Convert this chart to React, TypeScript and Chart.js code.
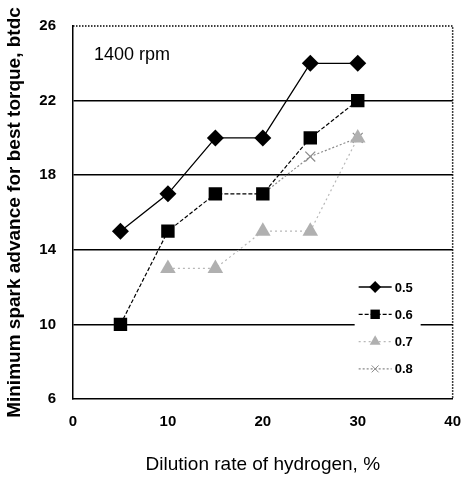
import React, { useEffect, useRef } from "react";
import { Chart, registerables } from "chart.js";

Chart.register(...registerables);

const dilution = [5, 10, 15, 20, 25, 30];
const series05 = [15, 17, 20, 20, 24, 24];
const series06 = [10, 15, 17, 17, 20, 22];
const series07 = [null, 13, 13, 15, 15, 20];
const series08 = [null, null, null, 17, 19, 20];
const seriesLabels = ["0.5", "0.6", "0.7", "0.8"];
const annotationText = "1400 rpm";
const xTitle = "Dilution rate of hydrogen, %";
const yTitle = "Minimum spark advance for best torque, btdc";

const FONT = "'Liberation Sans', Arial, sans-serif";

function toPoints(vals: (number | null)[]) {
  return dilution.map((x, i) => ({ x, y: vals[i] }));
}

function drawMarker(ctx: CanvasRenderingContext2D, style: string, x: number, y: number, r: number, fill: string, stroke: string) {
  ctx.save();
  ctx.fillStyle = fill;
  ctx.strokeStyle = stroke;
  ctx.lineWidth = 1;
  ctx.setLineDash([]);
  ctx.beginPath();
  if (style === "rectRot") {
    ctx.moveTo(x, y - r);
    ctx.lineTo(x + r, y);
    ctx.lineTo(x, y + r);
    ctx.lineTo(x - r, y);
    ctx.closePath();
    ctx.fill();
  } else if (style === "rect") {
    const s = r * Math.SQRT1_2;
    ctx.rect(x - s, y - s, 2 * s, 2 * s);
    ctx.fill();
  } else if (style === "triangle") {
    ctx.moveTo(x, y - r);
    ctx.lineTo(x + r * 0.866, y + r * 0.5);
    ctx.lineTo(x - r * 0.866, y + r * 0.5);
    ctx.closePath();
    ctx.fill();
  } else {
    const s = r * Math.SQRT1_2;
    ctx.moveTo(x - s, y - s);
    ctx.lineTo(x + s, y + s);
    ctx.moveTo(x + s, y - s);
    ctx.lineTo(x - s, y + s);
    ctx.stroke();
  }
  ctx.restore();
}

const framePlugin = {
  id: "frame",
  afterDatasetsDraw(chart: any) {
    const { ctx, chartArea } = chart;
    const { left, right, top, bottom } = chartArea;
    ctx.save();
    // dotted top and right borders
    ctx.strokeStyle = "#000";
    ctx.lineWidth = 1.5;
    ctx.setLineDash([1.5, 1.5]);
    ctx.beginPath();
    ctx.moveTo(left, top);
    ctx.lineTo(right, top);
    ctx.lineTo(right, bottom);
    ctx.stroke();
    ctx.setLineDash([]);

    // annotation
    ctx.fillStyle = "#000";
    ctx.font = `18px ${FONT}`;
    ctx.textAlign = "left";
    ctx.textBaseline = "middle";
    ctx.fillText(annotationText, left + 21, top + 29);

    // legend
    const boxL = right - 98;
    const boxT = top + 247;
    ctx.fillStyle = "#fff";
    ctx.fillRect(boxL, boxT, 66, 110);
    const lineX0 = right - 94;
    const lineX1 = right - 61;
    const textX = right - 58;
    const rowY0 = top + 261;
    const rowStep = 27.3;
    chart.data.datasets.forEach((ds: any, i: number) => {
      const y = rowY0 + i * rowStep;
      ctx.save();
      ctx.strokeStyle = ds.borderColor;
      ctx.lineWidth = ds.borderWidth;
      ctx.setLineDash(ds.borderDash || []);
      ctx.beginPath();
      ctx.moveTo(lineX0, y);
      ctx.lineTo(lineX1, y);
      ctx.stroke();
      ctx.restore();
      drawMarker(ctx, ds.pointStyle, (lineX0 + lineX1) / 2, y, ds.pointRadius * 0.7, ds.pointBackgroundColor, ds.pointBorderColor);
      ctx.fillStyle = "#000";
      ctx.font = `bold 13px ${FONT}`;
      ctx.textAlign = "left";
      ctx.textBaseline = "middle";
      ctx.fillText(ds.label, textX, y + 1);
    });
    ctx.restore();
  },
};

export default function App() {
  const ref = useRef<HTMLCanvasElement | null>(null);
  useEffect(() => {
    document.body.style.margin = "0";
    const canvas = ref.current;
    if (!canvas) return;
    const chart = new Chart(canvas, {
      type: "line",
      data: {
        datasets: [
          {
            label: seriesLabels[0],
            data: toPoints(series05),
            borderColor: "#000",
            borderWidth: 1.3,
            pointStyle: "rectRot",
            pointRadius: 8.5,
            pointBackgroundColor: "#000",
            pointBorderColor: "#000",
            pointBorderWidth: 0,
          },
          {
            label: seriesLabels[1],
            data: toPoints(series06),
            borderColor: "#000",
            borderWidth: 1.2,
            borderDash: [4, 2],
            pointStyle: "rect",
            pointRadius: 9.5,
            pointBackgroundColor: "#000",
            pointBorderColor: "#000",
            pointBorderWidth: 0,
          },
          {
            label: seriesLabels[2],
            data: toPoints(series07),
            borderColor: "#b8b8b8",
            borderWidth: 1.2,
            borderDash: [2, 3],
            pointStyle: "triangle",
            pointRadius: 9,
            pointBackgroundColor: "#b0b0b0",
            pointBorderColor: "#b0b0b0",
            pointBorderWidth: 0,
          },
          {
            label: seriesLabels[3],
            data: toPoints(series08),
            borderColor: "#8a8a8a",
            borderWidth: 1.2,
            borderDash: [2, 2],
            pointStyle: "crossRot",
            pointRadius: 7,
            pointBackgroundColor: "#8a8a8a",
            pointBorderColor: "#8a8a8a",
            pointBorderWidth: 1.2,
          },
        ] as any,
      },
      options: {
        animation: false,
        responsive: false,
        spanGaps: false,
        layout: { padding: { left: 0, right: 12, top: 25, bottom: 0 } },
        plugins: {
          legend: { display: false },
          tooltip: { enabled: false },
          title: { display: false },
        },
        scales: {
          x: {
            type: "linear",
            min: 0,
            max: 40,
            ticks: {
              stepSize: 10,
              padding: 14,
              color: "#000",
              font: { family: FONT, size: 15, weight: "bold" },
            },
            grid: { color: "rgba(0,0,0,0)", drawTicks: false },
            border: { display: true, color: "#000", width: 1.5 },
            title: {
              display: true,
              text: xTitle,
              color: "#000",
              font: { family: FONT, size: 19 },
              padding: { top: 0, bottom: 1 },
            },
            afterFit(scale: any) {
              scale.height = 78;
            },
          },
          y: {
            type: "linear",
            min: 6,
            max: 26,
            ticks: {
              stepSize: 4,
              padding: 17,
              color: "#000",
              font: { family: FONT, size: 15, weight: "bold" },
            },
            grid: {
              color: (ctx: any) =>
                ctx.tick && (ctx.tick.value === 26 || ctx.tick.value === 6) ? "rgba(0,0,0,0)" : "#000",
              lineWidth: 1.5,
              drawTicks: false,
            },
            border: { display: true, color: "#000", width: 1.5 },
            title: {
              display: true,
              text: yTitle,
              color: "#000",
              font: { family: FONT, size: 19, weight: "bold" },
              padding: { top: 3, bottom: 0 },
            },
            afterFit(scale: any) {
              scale.width = 73;
            },
          },
        },
      } as any,
      plugins: [framePlugin],
    });
    return () => chart.destroy();
  }, []);
  return (
    <div style={{ width: 475, height: 477 }}>
      <canvas ref={ref} width={475} height={477} style={{ display: "block" }} />
    </div>
  );
}
